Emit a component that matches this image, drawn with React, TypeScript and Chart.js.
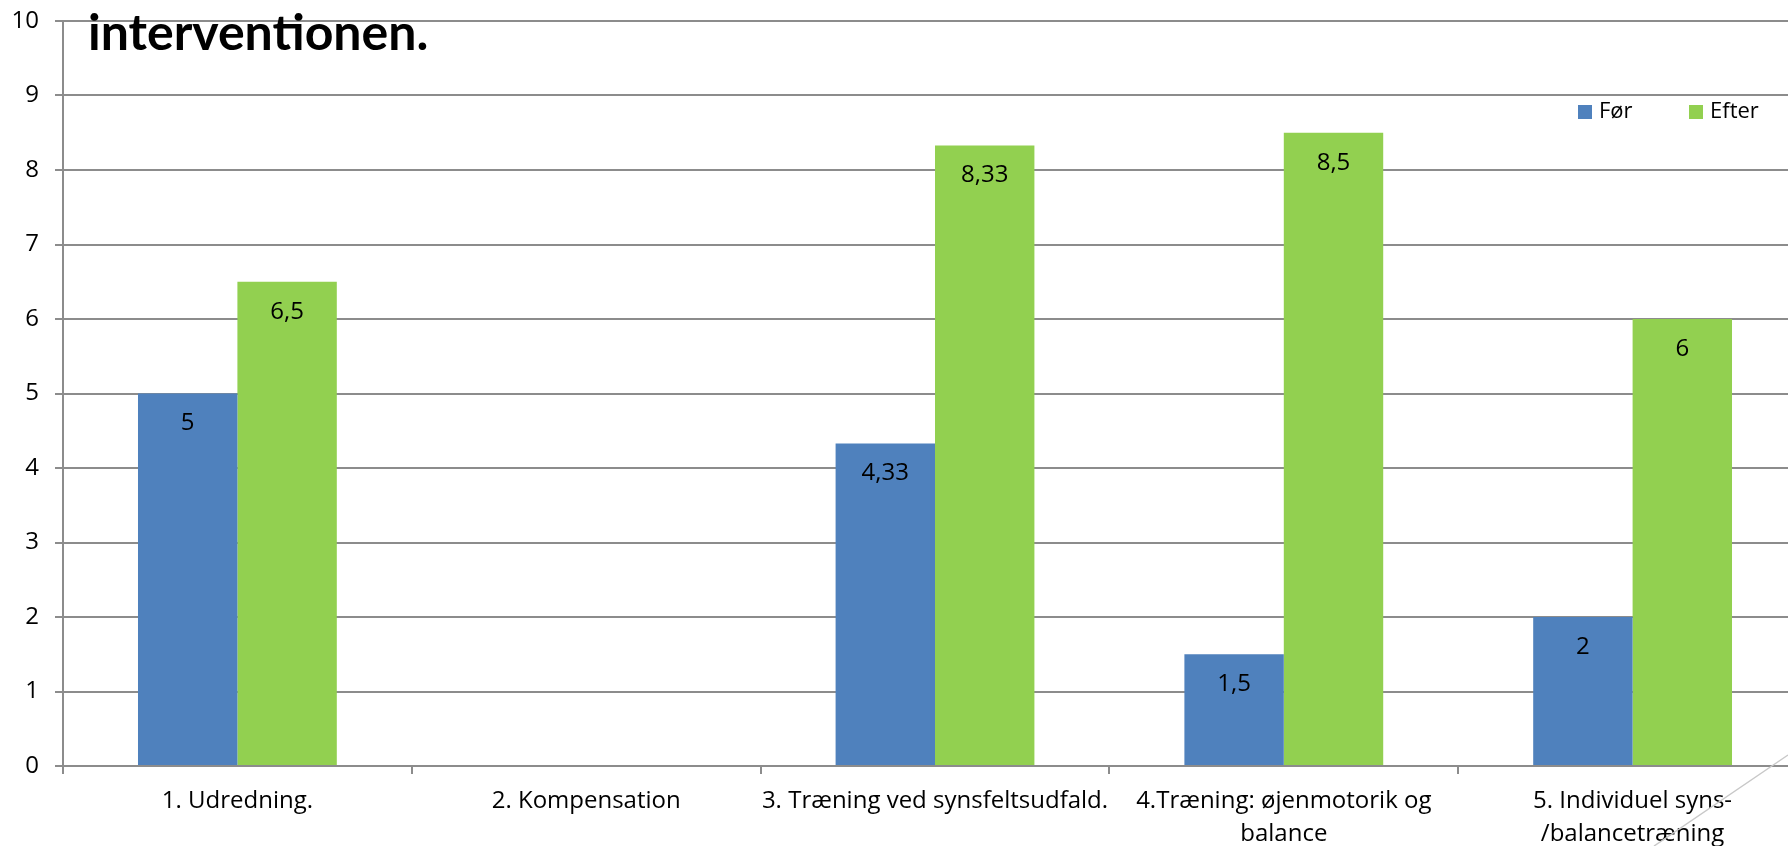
import React, { useEffect, useRef } from "react";
import { Chart, registerables } from "chart.js";

Chart.register(...registerables);

// Categories on the x axis (multi-line labels as arrays)
const categories: (string | string[])[] = [
  "1. Udredning.",
  "2. Kompensation",
  "3. Træning ved synsfeltsudfald.",
  ["4.Træning: øjenmotorik og", "balance"],
  ["5. Individuel syns-", "/balancetræning"],
];

// Scores before and after the intervention
const beforeValues: (number | null)[] = [5, null, 4.33, 1.5, 2];
const afterValues: (number | null)[] = [6.5, null, 8.33, 8.5, 6];

const seriesNames = ["Før", "Efter"];
const seriesColors = ["#4F81BD", "#92D050"];

const yTicks = [0, 1, 2, 3, 4, 5, 6, 7, 8, 9, 10];

const titleText = "interventionen.";

const FONT = "'Open Sans', 'Noto Sans', sans-serif";
const TITLE_FONT = "Lato, 'Open Sans', sans-serif";
const GRID = "#8c8c8c";

const fmt = (v: number) => String(v).replace(".", ",");

// Draws the value labels, the legend, the heading and the corner stroke
const overlayPlugin = {
  id: "overlay",
  afterDatasetsDraw(chart: any) {
    const ctx = chart.ctx as CanvasRenderingContext2D;
    ctx.save();
    ctx.fillStyle = "#000";
    ctx.font = `24px ${FONT}`;
    ctx.textAlign = "center";
    ctx.textBaseline = "middle";
    chart.data.datasets.forEach((ds: any, i: number) => {
      const meta = chart.getDatasetMeta(i);
      meta.data.forEach((el: any, j: number) => {
        const v = ds.data[j];
        if (v === null || v === undefined) return;
        ctx.fillText(fmt(v), el.x, el.y + 30);
      });
    });
    ctx.restore();
  },
  afterDraw(chart: any) {
    const ctx = chart.ctx as CanvasRenderingContext2D;
    ctx.save();
    // heading
    ctx.fillStyle = "#000";
    ctx.font = `bold 50px ${TITLE_FONT}`;
    ctx.textAlign = "left";
    ctx.textBaseline = "alphabetic";
    ctx.fillText(titleText, 88, 50);

    // legend
    ctx.font = `22px ${FONT}`;
    ctx.textBaseline = "middle";
    const legendX = [1578, 1689];
    chart.data.datasets.forEach((ds: any, i: number) => {
      ctx.fillStyle = ds.backgroundColor;
      ctx.fillRect(legendX[i], 105, 14, 14);
      ctx.fillStyle = "#000";
      ctx.fillText(ds.label, legendX[i] + 21, 112);
    });

    // thin diagonal stroke in the lower right corner
    ctx.strokeStyle = "#c8c8c8";
    ctx.lineWidth = 1.5;
    ctx.beginPath();
    ctx.moveTo(1654, 846);
    ctx.lineTo(1788, 755);
    ctx.stroke();
    ctx.restore();
  },
};

export default function App() {
  const canvasRef = useRef<HTMLCanvasElement | null>(null);

  useEffect(() => {
    if (!canvasRef.current) return;
    const chart = new Chart(canvasRef.current, {
      type: "bar",
      data: {
        labels: categories,
        datasets: [
          {
            label: seriesNames[0],
            data: beforeValues,
            backgroundColor: seriesColors[0],
            borderWidth: 0,
          },
          {
            label: seriesNames[1],
            data: afterValues,
            backgroundColor: seriesColors[1],
            borderWidth: 0,
          },
        ],
      },
      options: {
        responsive: false,
        animation: false,
        devicePixelRatio: 1,
        layout: { padding: { top: 21, right: 33, bottom: 0, left: 0 } },
        datasets: {
          bar: { categoryPercentage: 0.57, barPercentage: 1 },
        },
        plugins: {
          legend: { display: false },
          title: { display: false },
          tooltip: { enabled: false },
        },
        scales: {
          x: {
            offset: true,
            grid: {
              offset: true,
              drawOnChartArea: false,
              drawTicks: true,
              tickLength: 8,
              color: GRID,
              lineWidth: 2,
            },
            border: { display: true, color: GRID, width: 2 },
            ticks: {
              color: "#000",
              font: { family: FONT, size: 24, lineHeight: 1.4 },
              padding: 10,
              maxRotation: 0,
              autoSkip: false,
            },
            afterFit(scale: any) {
              scale.height = 80;
              scale.paddingLeft = 0;
              scale.paddingRight = 0;
            },
          },
          y: {
            min: 0,
            max: 10,
            afterBuildTicks(scale: any) {
              scale.ticks = yTicks.map((v) => ({ value: v }));
            },
            grid: {
              color: GRID,
              lineWidth: 2,
              drawTicks: true,
              tickLength: 8,
            },
            border: { display: true, color: GRID, width: 2 },
            ticks: {
              color: "#000",
              font: { family: FONT, size: 24 },
              padding: 16,
            },
            afterFit(scale: any) {
              scale.width = 63;
              scale.paddingTop = 0;
              scale.paddingBottom = 0;
            },
          },
        },
      },
      plugins: [overlayPlugin],
    });
    return () => chart.destroy();
  }, []);

  return (
    <div
      style={{
        position: "absolute",
        left: 0,
        top: 0,
        width: 1788,
        height: 846,
        overflow: "hidden",
        background: "#fff",
      }}
    >
      <canvas ref={canvasRef} width={1840} height={846} />
    </div>
  );
}
